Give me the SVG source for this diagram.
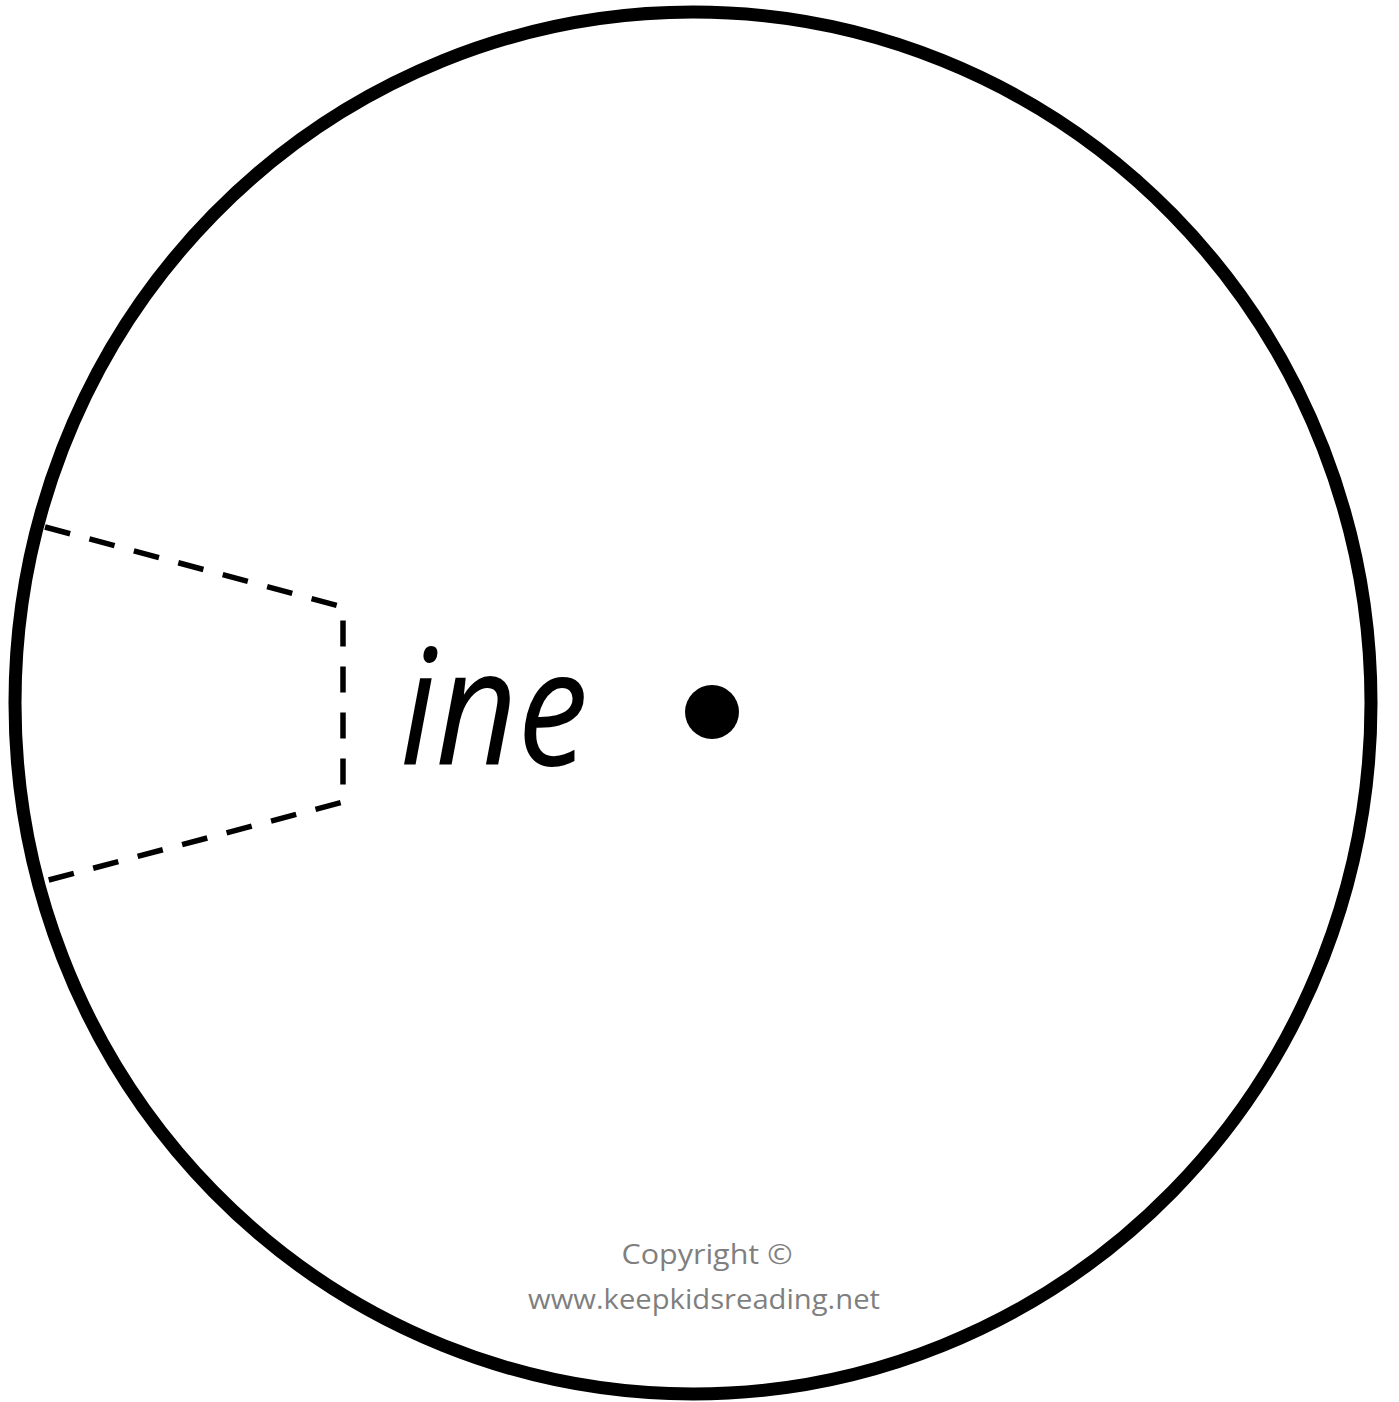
<svg xmlns="http://www.w3.org/2000/svg" width="1399" height="1402" viewBox="0 0 1399 1402">
  <style>
    .rim { fill: #ffffff; stroke: #000000; stroke-width: 13; }
    .cut { fill: none; stroke: #000000; stroke-width: 5.5; stroke-dasharray: 26 20; }
    .word { font-family: "Open Sans", "Liberation Sans", sans-serif; font-style: italic; font-size: 162px; fill: #000000; }
    .copy { font-family: "Open Sans", "Liberation Sans", sans-serif; font-size: 27px; fill: #7f7f7f; }
  </style>
  <rect width="1399" height="1402" fill="#ffffff"/>
  <g id="wheel">
    <ellipse class="rim" cx="693" cy="703" rx="678" ry="691"/>
  </g>
  <g id="window">
    <polyline class="cut" points="45,527 343,607 343,802 45,881"/>
  </g>
  <g id="label">
    <text class="word" x="400" y="765" textLength="188" lengthAdjust="spacingAndGlyphs">ine</text>
  </g>
  <g id="center">
    <circle cx="712" cy="712" r="27" fill="#000000"/>
  </g>
  <g id="copyright">
    <text class="copy" x="707" y="1264" text-anchor="middle" textLength="171" lengthAdjust="spacingAndGlyphs">Copyright ©</text>
    <text class="copy" x="704" y="1309" text-anchor="middle" textLength="352" lengthAdjust="spacingAndGlyphs">www.keepkidsreading.net</text>
  </g>
</svg>
